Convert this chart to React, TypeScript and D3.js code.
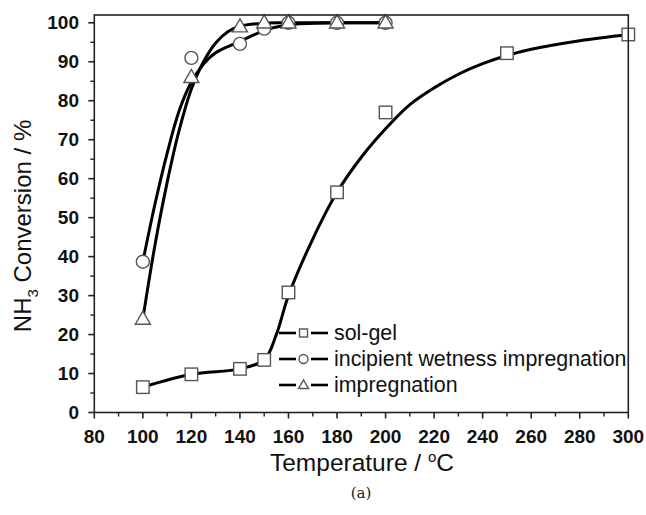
import React from "react";
import * as d3 from "d3";

const W = 646;
const H = 515;

// measured points
const temps = [100, 120, 140, 150, 160, 180, 200, 250, 300];
const solGel = [6.5, 9.8, 11.2, 13.5, 30.8, 56.5, 77, 92.2, 97];
const iwTemps = [100, 120, 140, 150, 160, 180, 200];
const incipient = [38.7, 91, 94.6, 98.5, 100, 100, 100];
const impregnation = [24, 86, 99, 100, 100, 100, 100];

// fitted curves (data units)
const solGelFitT = [100, 120, 140, 150, 155, 160, 170, 180, 190, 200, 210, 220, 230, 240, 250, 260, 280, 300];
const solGelFitV = [6.5, 9.8, 11.2, 13.5, 20, 30, 44.5, 56.5, 65.5, 72.8, 79, 83.3, 86.8, 89.5, 91.6, 93.2, 95.4, 97];
const incipientFitT = [100, 105, 110, 115, 120, 125, 130, 140, 150, 160, 180, 200];
const incipientFitV = [38.7, 53.5, 66.5, 77.5, 84.8, 89.4, 92.3, 95.2, 98, 99.5, 100, 100];
const impregFitT = [100, 105, 110, 115, 120, 125, 130, 135, 140, 150, 160, 180, 200];
const impregFitV = [24, 43, 59, 72.5, 83, 90, 94.8, 97.7, 99.1, 99.9, 100, 100, 100];

const xTicks = [80, 100, 120, 140, 160, 180, 200, 220, 240, 260, 280, 300];
const yTicks = [0, 10, 20, 30, 40, 50, 60, 70, 80, 90, 100];
const legendLabels = ["sol-gel", "incipient wetness impregnation", "impregnation"];

const x = d3.scaleLinear().domain([80, 300]).range([94.3, 628.3]);
const y = d3.scaleLinear().domain([0, 102]).range([412.5, 15]);

const line = d3
  .line<[number, number]>()
  .x((d) => x(d[0]))
  .y((d) => y(d[1]))
  .curve(d3.curveCatmullRom.alpha(0.5));

const zip = (a: number[], b: number[]) => a.map((t, i) => [t, b[i]] as [number, number]);

const MK = "#555";

function Square({ cx, cy, s }: { cx: number; cy: number; s: number }) {
  return <rect x={cx - s / 2} y={cy - s / 2} width={s} height={s} fill="white" stroke={MK} strokeWidth={1.4} />;
}
function Circle({ cx, cy, r }: { cx: number; cy: number; r: number }) {
  return <circle cx={cx} cy={cy} r={r} fill="white" stroke={MK} strokeWidth={1.4} />;
}
function Tri({ cx, cy, s }: { cx: number; cy: number; s: number }) {
  const h = s * 0.87;
  const p = `${cx},${cy - h * 0.6} ${cx + s / 2},${cy + h * 0.4} ${cx - s / 2},${cy + h * 0.4}`;
  return <polygon points={p} fill="white" stroke={MK} strokeWidth={1.4} />;
}

export default function App() {
  const minorX = d3.range(90, 300, 20);
  const minorY = d3.range(5, 100, 10);
  const font = "'Liberation Sans', Arial, sans-serif";
  const legendY = [333, 359, 385];
  return (
    <svg width={W} height={H} style={{ position: "absolute", left: 0, top: 0, background: "white" }}>
      <rect x={0} y={0} width={W} height={H} fill="white" />
      {/* curves */}
      <path d={line(zip(solGelFitT, solGelFitV)) || ""} fill="none" stroke="#000" strokeWidth={3} />
      <path d={line(zip(incipientFitT, incipientFitV)) || ""} fill="none" stroke="#000" strokeWidth={3} />
      <path d={line(zip(impregFitT, impregFitV)) || ""} fill="none" stroke="#000" strokeWidth={3} />
      {/* markers */}
      {temps.map((t, i) => (
        <Square key={"s" + i} cx={x(t)} cy={y(solGel[i])} s={12.5} />
      ))}
      {iwTemps.map((t, i) => (
        <Circle key={"c" + i} cx={x(t)} cy={y(incipient[i])} r={6.5} />
      ))}
      {iwTemps.map((t, i) => (
        <Tri key={"t" + i} cx={x(t)} cy={y(impregnation[i])} s={15} />
      ))}
      {/* frame */}
      <rect x={x(80)} y={y(102)} width={x(300) - x(80)} height={y(0) - y(102)} fill="none" stroke="#222" strokeWidth={1.6} />
      {/* x ticks */}
      {xTicks.map((t) => (
        <g key={"xt" + t}>
          <line x1={x(t)} x2={x(t)} y1={y(0)} y2={y(0) + 6} stroke="#222" strokeWidth={1.6} />
          <text x={x(t)} y={443} textAnchor="middle" fontFamily={font} fontWeight="bold" fontSize={19} fill="#111">
            {t}
          </text>
        </g>
      ))}
      {minorX.map((t) => (
        <line key={"xm" + t} x1={x(t)} x2={x(t)} y1={y(0)} y2={y(0) + 4} stroke="#222" strokeWidth={1.4} />
      ))}
      {yTicks.map((t) => (
        <g key={"yt" + t}>
          <line x1={x(80) - 6} x2={x(80)} y1={y(t)} y2={y(t)} stroke="#222" strokeWidth={1.6} />
          <text x={79} y={y(t) + 6.5} textAnchor="end" fontFamily={font} fontWeight="bold" fontSize={19} fill="#111">
            {t}
          </text>
        </g>
      ))}
      {minorY.map((t) => (
        <line key={"ym" + t} x1={x(80) - 4} x2={x(80)} y1={y(t)} y2={y(t)} stroke="#222" strokeWidth={1.4} />
      ))}
      {/* legend */}
      {legendLabels.map((lab, i) => (
        <g key={"lg" + i}>
          <line x1={279} x2={296} y1={legendY[i]} y2={legendY[i]} stroke="#000" strokeWidth={2.6} />
          <line x1={311} x2={328} y1={legendY[i]} y2={legendY[i]} stroke="#000" strokeWidth={2.6} />
          {i === 0 && <Square cx={303.5} cy={legendY[i]} s={8} />}
          {i === 1 && <Circle cx={303.5} cy={legendY[i]} r={4.5} />}
          {i === 2 && <Tri cx={303.5} cy={legendY[i]} s={10} />}
          <text x={334} y={legendY[i] + 7} fontFamily={font} fontSize={21.4} fill="#111">
            {lab}
          </text>
        </g>
      ))}
      {/* axis titles */}
      <text x={362} y={471} textAnchor="middle" fontFamily={font} fontSize={24.5} fill="#111">
        Temperature / <tspan dy={-9} fontSize={15}>o</tspan>
        <tspan dy={9}>C</tspan>
      </text>
      <text
        transform={`translate(31,${226}) rotate(-90)`}
        textAnchor="middle"
        fontFamily={font}
        fontSize={24}
        fill="#111"
      >
        NH<tspan dy={7} fontSize={15}>3</tspan>
        <tspan dy={-7}> Conversion / %</tspan>
      </text>
      <text x={361} y={498} textAnchor="middle" fontFamily="'DejaVu Serif', serif" fontSize={15} fill="#222">
        (a)
      </text>
    </svg>
  );
}
